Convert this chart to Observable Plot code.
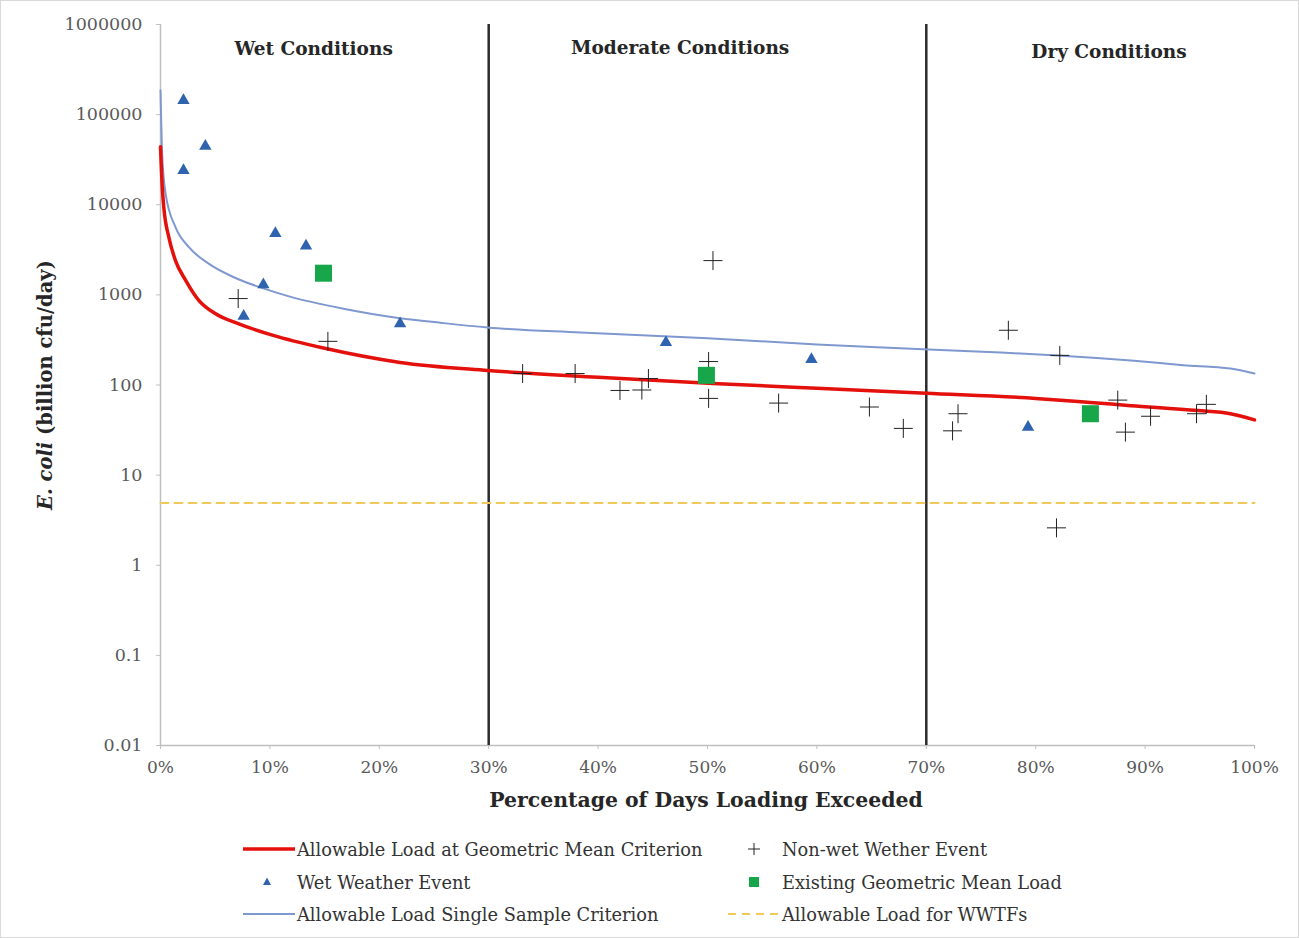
<!DOCTYPE html>
<html><head><meta charset="utf-8">
<script src="https://cdn.jsdelivr.net/npm/d3@7"></script>
<script src="https://cdn.jsdelivr.net/npm/@observablehq/plot@0.6"></script>
<style>
body{margin:0;background:#fff;}
#wrap{position:relative;width:1299px;height:938px;overflow:hidden;background:#fff;font-family:"DejaVu Serif",serif;}
#chart{position:absolute;left:0;top:0;}
#frame{position:absolute;left:0;top:0;width:1297px;height:936px;border:1px solid #d9d9d9;pointer-events:none;}
.title{position:absolute;white-space:nowrap;color:#262626;font-weight:bold;}
#ytitle{left:45px;top:385px;transform:translate(-50%,-50%) rotate(-90deg);font-size:19.5px;}
#xtitle{left:706px;top:800px;transform:translate(-50%,-50%);font-size:20.4px;}
.leg{position:absolute;white-space:nowrap;font-size:17.8px;color:#333;transform:translateY(-50%);}
.sw{position:absolute;}
</style></head><body>
<div id="wrap"><div id="chart"></div>
<div id="ytitle" class="title"><i>E. coli</i> (billion cfu/day)</div>
<div id="xtitle" class="title">Percentage of Days Loading Exceeded</div>
<div id="legend"></div>
<div id="frame"></div></div>
<script>
// ---- data ----
const xTicks = [0,10,20,30,40,50,60,70,80,90,100];
const yTicks = [1000000,100000,10000,1000,100,10,1,0.1,0.01];
const yTickLabels = ["1000000","100000","10000","1000","100","10","1","0.1","0.01"];

const geoCurvePct  = [0,0.16,0.3,0.76,1.37,2.3,3.5,5.0,7.1,10.3,14.9,21.9,29.9,40,50.5,60,70,80,85,88.7,94.8,97.8,100];
const geoCurveLoad = [44000,15800,9400,4370,2400,1450,870,620,480,355,257,178,145,122,104,92,81,71,64,59,52,48,41];

const ssCurvePct  = [0,0.15,0.46,1.37,2.6,4.4,6.6,7.8,9.4,11.9,16.5,21.9,25.6,29.9,38.4,50,60,67.6,76.8,82,88.7,93.5,97.8,100];
const ssCurveLoad = [186000,37000,13400,5650,3380,2220,1590,1380,1180,950,710,550,490,435,383,330,282,256,229,213,187,166,152,134];

const wwtfPct = [0,100];
const wwtfLoad = [4.9,4.9];

const wetPct  = [2.1,2.1,4.1,10.5,13.3,9.4,7.6,21.9,46.2,59.5,79.3];
const wetLoad = [144000,24000,44600,4800,3500,1300,580,480,297,192,34];

const nonWetPct  = [7.1,15.3,33.1,37.9,42.0,44.0,44.6,50.1,50.1,50.5,56.5,64.8,67.9,72.4,72.9,77.5,81.9,82.2,87.5,88.2,90.5,94.7,95.6];
const nonWetLoad = [910,305,134,134,87,88,118,182,71,2400,63,57,33,31,48,405,2.6,213,68,30,45,48,61];

const geoMeanPct  = [14.9,49.9,85.0];
const geoMeanLoad = [1740,128,48];

const zoneBounds = [30,70];
const zoneLabels = ["Wet Conditions","Moderate Conditions","Dry Conditions"];
const zonePct    = [14.0,47.5,86.7];
const zoneLoad   = [531000,545000,490000];

const legendItems = [
  "Allowable Load at Geometric Mean Criterion","Non-wet Wether Event",
  "Wet Weather Event","Existing Geometric Mean Load",
  "Allowable Load Single Sample Criterion","Allowable Load for WWTFs"
];

// ---- build tables ----
const zip = (xs, ys) => xs.map((x,i)=>({x, y: ys[i]}));
const geoCurve = zip(geoCurvePct, geoCurveLoad);
const ssCurve = zip(ssCurvePct, ssCurveLoad);
const wwtf = zip(wwtfPct, wwtfLoad);
const wet = zip(wetPct, wetLoad);
const nonWet = zip(nonWetPct, nonWetLoad);
const geoMean = zip(geoMeanPct, geoMeanLoad);
const zones = zoneLabels.map((t,i)=>({t, x: zonePct[i], y: zoneLoad[i]}));

const thinPlus = {draw(ctx, size){const r=Math.sqrt(size/Math.PI); ctx.moveTo(-r,0);ctx.lineTo(r,0);ctx.moveTo(0,-r);ctx.lineTo(0,r);}};

const RED="#e4100c", BLUE="#7f98cf", TRI="#2f63ae", GREEN="#17a64a", WW="#f2c85c";

const chart = Plot.plot({
  width:1299, height:830,
  marginLeft:160, marginRight:45, marginTop:24, marginBottom:85,
  style:{fontFamily:"DejaVu Serif", background:"transparent", color:"#595959"},
  x:{domain:[0,100]},
  y:{type:"log", domain:[0.01,1e6]},
  marks:[
    Plot.ruleY([0.01],{stroke:"#bfbfbf", strokeWidth:1.5}),
    Plot.ruleX([0],{stroke:"#bfbfbf", strokeWidth:1.5}),
    Plot.axisX({ticks:xTicks, tickFormat:d=>d+"%", tickSize:4, tickPadding:11, stroke:"#bfbfbf", fill:"#595959", fontSize:17, label:null}),
    Plot.axisY({ticks:yTicks, tickFormat:d=>yTickLabels[yTicks.indexOf(d)], tickSize:4, tickPadding:14, stroke:"#bfbfbf", fill:"#595959", fontSize:17.5, label:null}),
    Plot.ruleX(zoneBounds,{stroke:"#2b2b2b", strokeWidth:2.5}),
    Plot.line(wwtf,{x:"x", y:"y", stroke:WW, strokeWidth:2, strokeDasharray:"8,6"}),
    Plot.line(ssCurve,{x:"x", y:"y", stroke:BLUE, strokeWidth:2, curve:"monotone-x"}),
    Plot.line(geoCurve,{x:"x", y:"y", stroke:RED, strokeWidth:3.5, curve:"monotone-x"}),
    Plot.dot(nonWet,{x:"x", y:"y", symbol:thinPlus, r:9.5, stroke:"#222", strokeWidth:1, fill:"none"}),
    Plot.dot(wet,{x:"x", y:"y", symbol:"triangle", r:4.6, fill:TRI, stroke:"none"}),
    Plot.dot(geoMean,{x:"x", y:"y", symbol:"square", r:9.6, fill:GREEN, stroke:"none"}),
    Plot.text(zones,{x:"x", y:"y", text:"t", fontSize:18.5, fontWeight:"bold", fill:"#262626"})
  ]
});
document.getElementById("chart").appendChild(chart);

// ---- legend ----
const leg = document.getElementById("legend");
const rowsY = [849, 882, 914];
const colSw = [243, 728];
const colTx = [297, 782];
function swatch(kind){
  const ns="http://www.w3.org/2000/svg";
  const s=document.createElementNS(ns,"svg");
  s.setAttribute("width",54); s.setAttribute("height",20);
  let html="";
  if(kind===0) html=`<line x1="0" y1="10" x2="52" y2="10" stroke="${RED}" stroke-width="3.5"/>`;
  if(kind===1) html=`<path d="M20,10h12M26,4v12" stroke="#222" stroke-width="1" fill="none"/>`;
  if(kind===2) html=`<path d="M24,5.5L28,13L20,13Z" fill="${TRI}"/>`;
  if(kind===3) html=`<rect x="21" y="5" width="10" height="10" fill="${GREEN}"/>`;
  if(kind===4) html=`<line x1="0" y1="10" x2="52" y2="10" stroke="${BLUE}" stroke-width="2"/>`;
  if(kind===5) html=`<line x1="0" y1="10" x2="52" y2="10" stroke="${WW}" stroke-width="2" stroke-dasharray="8,6"/>`;
  s.innerHTML=html;
  return s;
}
legendItems.forEach((t,i)=>{
  const col=i%2, row=Math.floor(i/2);
  const sw=swatch(i); sw.classList.add("sw");
  sw.style.left=colSw[col]+"px"; sw.style.top=(rowsY[row]-10)+"px";
  leg.appendChild(sw);
  const d=document.createElement("div"); d.className="leg"; d.textContent=t;
  d.style.left=colTx[col]+"px"; d.style.top=rowsY[row]+"px";
  leg.appendChild(d);
});
</script>
</body></html>
